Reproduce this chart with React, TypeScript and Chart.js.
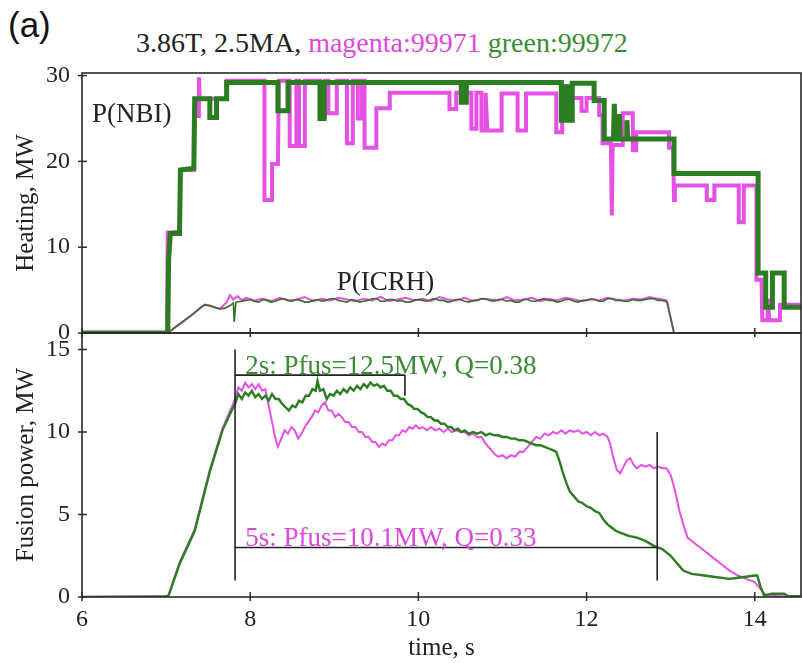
import React, { useEffect, useRef } from 'react';
import { Chart, registerables } from 'chart.js';

Chart.register(...registerables);

// ---------- axis ticks ----------
const xTickValues = [6, 8, 10, 12, 14];
const heatingTickValues = [0, 10, 20, 30];
const fusionTickValues = [0, 5, 10, 15];

// ---------- heating: P(NBI), shot 99972 (green) ----------
const nbiGreenTime = [6.0, 7.02, 7.03, 7.05, 7.16, 7.17, 7.33, 7.34, 7.52, 7.52, 7.6, 7.6, 7.72, 7.72, 8.33, 8.33, 8.45, 8.45, 8.83, 8.83, 8.88, 8.88, 10.51, 10.51, 10.57, 10.57, 11.7, 11.7, 11.74, 11.74, 11.75, 11.79, 11.79, 11.8, 11.83, 11.83, 12.09, 12.09, 12.21, 12.21, 12.32, 12.33, 12.34, 12.38, 12.39, 12.4, 12.47, 12.48, 12.49, 13.04, 13.04, 14.04, 14.04, 14.13, 14.13, 14.21, 14.21, 14.35, 14.35, 14.55];
const nbiGreenMW = [0, 0, 8.5, 11.6, 11.6, 19.0, 19.2, 27.3, 27.3, 25.1, 25.1, 27.3, 27.3, 29.2, 29.2, 25.9, 25.9, 29.2, 29.2, 25.0, 25.0, 29.2, 29.2, 26.9, 26.9, 29.2, 29.2, 24.8, 24.8, 29.0, 24.8, 24.8, 29.0, 24.8, 24.8, 29.1, 29.1, 27.1, 27.1, 22.6, 22.6, 26.7, 22.6, 22.6, 25.5, 22.6, 22.6, 24.8, 22.6, 22.6, 18.6, 18.6, 7.0, 7.0, 3.0, 3.0, 7.0, 7.0, 3.0, 3.0];

// ---------- heating: P(NBI), shot 99971 (magenta) ----------
const nbiMagentaTime = [6.0, 7.01, 7.02, 7.16, 7.17, 7.33, 7.34, 7.38, 7.39, 7.4, 7.72, 7.72, 8.17, 8.17, 8.26, 8.26, 8.33, 8.34, 8.47, 8.47, 8.55, 8.55, 8.58, 8.58, 8.65, 8.65, 8.83, 8.83, 8.89, 8.89, 8.93, 8.93, 9.03, 9.03, 9.15, 9.15, 9.22, 9.22, 9.28, 9.28, 9.33, 9.33, 9.36, 9.36, 9.5, 9.5, 9.66, 9.66, 10.37, 10.37, 10.45, 10.45, 10.63, 10.63, 10.69, 10.69, 10.75, 10.75, 10.8, 10.8, 10.82, 10.99, 10.99, 11.18, 11.18, 11.28, 11.28, 11.64, 11.64, 11.71, 11.71, 11.94, 11.94, 12.0, 12.0, 12.15, 12.15, 12.19, 12.19, 12.29, 12.3, 12.31, 12.43, 12.43, 12.55, 12.55, 12.59, 12.59, 12.98, 12.98, 13.03, 13.04, 13.05, 13.43, 13.43, 13.52, 13.52, 13.81, 13.81, 13.87, 13.87, 14.02, 14.02, 14.08, 14.09, 14.15, 14.16, 14.17, 14.3, 14.3, 14.55];
const nbiMagentaMW = [0, 0, 11.7, 11.8, 19.0, 19.0, 25.3, 25.3, 29.8, 27.3, 27.3, 29.4, 29.4, 15.5, 15.5, 19.7, 19.7, 29.4, 29.4, 21.8, 21.8, 29.4, 29.4, 21.8, 21.8, 29.4, 29.4, 25.3, 25.3, 29.4, 29.4, 25.6, 25.6, 29.4, 29.4, 22.1, 22.1, 29.4, 29.4, 25.0, 25.0, 29.4, 29.4, 21.6, 21.6, 26.2, 26.2, 28.0, 28.0, 26.1, 26.1, 28.0, 28.0, 23.8, 23.8, 28.0, 28.0, 23.6, 23.6, 28.0, 23.6, 23.6, 27.9, 27.9, 23.6, 23.6, 27.9, 27.9, 23.4, 23.4, 27.4, 27.4, 25.9, 25.9, 27.4, 27.4, 25.4, 25.4, 22.1, 22.1, 13.7, 21.9, 21.9, 25.6, 25.6, 21.3, 21.3, 23.4, 23.4, 21.6, 21.6, 15.5, 17.2, 17.2, 15.5, 15.5, 17.2, 17.2, 12.9, 12.9, 17.2, 17.2, 6.2, 6.2, 1.5, 1.5, 4.0, 1.5, 1.5, 3.3, 3.3];

// ---------- heating: P(ICRH) ----------
const icrhGreenTime = [6.0, 7.02, 7.12, 7.22, 7.32, 7.4, 7.46, 7.52, 7.58, 7.64, 7.7, 7.76, 7.8, 7.81, 7.83, 7.9, 7.95, 8.0, 8.05, 8.1, 8.15, 8.2, 8.25, 8.3, 8.35, 8.4, 8.45, 8.5, 8.55, 8.6, 8.65, 8.7, 8.75, 8.8, 8.85, 8.9, 8.95, 9.0, 9.05, 9.1, 9.15, 9.2, 9.25, 9.3, 9.35, 9.4, 9.45, 9.5, 9.55, 9.6, 9.65, 9.7, 9.75, 9.8, 9.85, 9.9, 9.95, 10.0, 10.05, 10.1, 10.15, 10.2, 10.25, 10.3, 10.35, 10.4, 10.45, 10.5, 10.55, 10.6, 10.65, 10.7, 10.75, 10.8, 10.85, 10.9, 10.95, 11.0, 11.05, 11.1, 11.15, 11.2, 11.25, 11.3, 11.35, 11.4, 11.45, 11.5, 11.55, 11.6, 11.65, 11.7, 11.75, 11.8, 11.85, 11.9, 11.95, 12.0, 12.05, 12.1, 12.15, 12.2, 12.25, 12.3, 12.35, 12.4, 12.45, 12.5, 12.55, 12.6, 12.65, 12.7, 12.75, 12.8, 12.85, 12.9, 12.96, 13.04, 14.55];
const icrhGreenMW = [0, 0, 0.8, 1.5, 2.2, 2.9, 3.3, 3.2, 3.0, 2.8, 2.9, 3.2, 3.5, 1.3, 3.6, 3.7, 3.8, 3.9, 3.7, 3.6, 3.9, 3.8, 3.6, 3.7, 3.9, 4.0, 3.8, 3.7, 3.9, 3.8, 3.6, 3.6, 3.8, 3.9, 3.7, 3.8, 4.0, 4.0, 3.8, 3.7, 3.6, 3.9, 3.8, 3.6, 3.7, 3.8, 4.0, 4.0, 3.7, 3.7, 3.9, 3.9, 3.7, 3.8, 3.6, 3.6, 3.8, 3.9, 3.8, 3.7, 3.9, 4.0, 3.8, 3.8, 3.6, 3.7, 3.9, 3.9, 3.7, 3.6, 3.8, 3.8, 4.0, 4.0, 3.8, 3.7, 3.9, 3.9, 3.7, 3.8, 3.6, 3.6, 3.9, 3.9, 3.7, 3.7, 3.9, 4.0, 3.8, 3.8, 3.6, 3.7, 3.9, 3.9, 3.7, 3.6, 3.8, 3.8, 3.9, 3.9, 3.7, 3.7, 4.0, 4.0, 3.8, 3.8, 3.7, 3.7, 3.9, 3.8, 3.8, 3.9, 4.0, 4.0, 3.8, 3.8, 3.6, 0, 0];
const icrhMagentaTime = [6.0, 7.02, 7.2, 7.46, 7.64, 7.72, 7.76, 7.8, 7.85, 7.9, 7.95, 8.05, 8.15, 8.25, 8.35, 8.45, 8.55, 8.65, 8.75, 8.85, 8.95, 9.05, 9.15, 9.25, 9.35, 9.45, 9.55, 9.65, 9.75, 9.85, 9.95, 10.05, 10.15, 10.25, 10.35, 10.45, 10.55, 10.65, 10.75, 10.85, 10.95, 11.05, 11.15, 11.25, 11.35, 11.45, 11.55, 11.65, 11.75, 11.85, 11.95, 12.05, 12.15, 12.25, 12.35, 12.45, 12.55, 12.65, 12.75, 12.85, 12.95, 13.04, 14.55];
const icrhMagentaMW = [0, 0, 1.3, 3.3, 2.8, 3.6, 4.4, 3.9, 4.3, 3.8, 4.1, 3.8, 4.0, 3.7, 4.1, 3.8, 3.9, 4.2, 3.7, 4.0, 3.8, 4.1, 3.9, 3.7, 4.0, 3.8, 4.2, 3.7, 3.9, 4.1, 3.8, 4.0, 3.7, 4.2, 3.9, 3.8, 4.1, 3.7, 4.0, 3.9, 3.8, 4.2, 3.8, 3.9, 4.1, 3.7, 4.0, 3.8, 4.1, 3.9, 3.7, 4.0, 3.8, 4.1, 3.9, 3.8, 4.0, 3.9, 4.2, 4.0, 3.8, 0, 0];

// ---------- fusion power, shot 99972 (green) ----------
const fusionGreenTime = [6.0, 6.5, 7.0, 7.03, 7.16, 7.34, 7.52, 7.67, 7.78, 7.82, 7.86, 7.9, 7.94, 7.98, 8.02, 8.06, 8.1, 8.14, 8.18, 8.22, 8.26, 8.3, 8.34, 8.38, 8.42, 8.46, 8.5, 8.54, 8.58, 8.62, 8.66, 8.7, 8.74, 8.78, 8.8, 8.83, 8.87, 8.91, 8.95, 8.99, 9.03, 9.07, 9.11, 9.15, 9.19, 9.23, 9.27, 9.31, 9.35, 9.39, 9.43, 9.47, 9.51, 9.55, 9.59, 9.63, 9.67, 9.71, 9.75, 9.79, 9.83, 9.87, 9.91, 9.95, 9.99, 10.03, 10.07, 10.11, 10.15, 10.19, 10.23, 10.27, 10.31, 10.35, 10.39, 10.43, 10.47, 10.51, 10.55, 10.6, 10.65, 10.7, 10.75, 10.8, 10.85, 10.9, 10.95, 11.0, 11.05, 11.1, 11.15, 11.2, 11.25, 11.3, 11.35, 11.4, 11.45, 11.5, 11.55, 11.6, 11.64, 11.68, 11.72, 11.76, 11.8, 11.85, 11.9, 11.95, 12.0, 12.05, 12.1, 12.15, 12.2, 12.25, 12.3, 12.35, 12.4, 12.5, 12.6, 12.7, 12.8, 12.9, 13.0, 13.05, 13.1, 13.15, 13.25, 13.4, 13.55, 13.7, 13.85, 14.0, 14.03, 14.07, 14.11, 14.2, 14.35, 14.4, 14.55];
const fusionGreenMW = [0, 0.02, 0.03, 0.1, 2.0, 4.0, 7.6, 10.1, 11.3, 11.7, 12.3, 12.0, 12.4, 12.2, 12.5, 12.1, 12.3, 12.0, 12.2, 11.9, 12.3, 12.0, 12.0, 11.7, 11.5, 11.3, 11.6, 11.5, 11.9, 11.8, 12.2, 12.2, 12.6, 12.5, 13.1, 12.5, 12.6, 12.0, 12.3, 12.2, 12.5, 12.3, 12.6, 12.4, 12.7, 12.5, 12.8, 12.6, 12.9, 12.7, 13.0, 12.8, 12.9, 12.7, 12.8, 12.5, 12.5, 12.2, 12.2, 12.0, 12.0, 11.7, 11.6, 11.4, 11.4, 11.2, 11.1, 10.9, 10.9, 10.7, 10.7, 10.5, 10.5, 10.3, 10.3, 10.1, 10.2, 10.0, 10.1, 9.9, 10.0, 9.9, 10.0, 9.8, 9.9, 9.8, 9.8, 9.7, 9.7, 9.6, 9.6, 9.5, 9.5, 9.4, 9.3, 9.2, 9.2, 9.1, 9.0, 8.9, 8.8, 8.2, 7.5, 6.9, 6.4, 6.1, 5.8, 5.7, 5.5, 5.4, 5.2, 5.1, 4.7, 4.4, 4.2, 4.0, 3.9, 3.7, 3.6, 3.4, 3.1, 2.9, 2.5, 2.2, 1.9, 1.6, 1.4, 1.3, 1.2, 1.1, 1.2, 1.3, 1.3, 0.6, 0.1, 0.2, 0.2, 0.05, 0.05];

// ---------- fusion power, shot 99971 (magenta) ----------
const fusionMagentaTime = [6.0, 7.0, 7.03, 7.16, 7.34, 7.52, 7.67, 7.78, 7.82, 7.86, 7.9, 7.94, 7.98, 8.02, 8.06, 8.1, 8.14, 8.18, 8.22, 8.26, 8.3, 8.33, 8.37, 8.41, 8.45, 8.49, 8.53, 8.57, 8.61, 8.65, 8.69, 8.73, 8.77, 8.81, 8.85, 8.89, 8.93, 8.97, 9.01, 9.05, 9.09, 9.13, 9.17, 9.21, 9.25, 9.29, 9.33, 9.37, 9.41, 9.45, 9.49, 9.53, 9.57, 9.61, 9.65, 9.69, 9.73, 9.77, 9.81, 9.85, 9.89, 9.93, 9.97, 10.01, 10.05, 10.1, 10.15, 10.2, 10.25, 10.3, 10.35, 10.4, 10.45, 10.5, 10.55, 10.6, 10.65, 10.7, 10.75, 10.8, 10.85, 10.9, 10.95, 11.0, 11.05, 11.1, 11.15, 11.2, 11.25, 11.3, 11.35, 11.4, 11.45, 11.5, 11.55, 11.6, 11.65, 11.7, 11.75, 11.8, 11.85, 11.9, 11.95, 12.0, 12.05, 12.1, 12.15, 12.2, 12.25, 12.28, 12.32, 12.36, 12.4, 12.44, 12.48, 12.52, 12.56, 12.6, 12.65, 12.7, 12.75, 12.8, 12.85, 12.9, 12.95, 13.0, 13.05, 13.1, 13.15, 13.2, 13.3, 13.4, 13.5, 13.6, 13.7, 13.8, 13.9, 14.0, 14.05, 14.1, 14.13, 14.3, 14.55];
const fusionMagentaMW = [0, 0.03, 0.1, 2.1, 4.1, 7.7, 10.2, 11.5, 12.0, 12.7, 12.5, 13.0, 12.7, 12.9, 12.6, 12.9, 12.5, 12.6, 11.6, 10.6, 9.6, 9.1, 9.6, 10.1, 9.9, 10.3, 10.1, 9.6, 9.9, 10.3, 10.6, 10.9, 11.3, 11.2, 11.6, 11.8, 11.3, 11.3, 10.9, 11.1, 10.9, 10.6, 10.6, 10.3, 10.3, 10.0, 10.0, 9.7, 9.7, 9.4, 9.4, 9.1, 9.3, 9.2, 9.5, 9.5, 9.8, 9.8, 10.1, 10.0, 10.3, 10.2, 10.4, 10.2, 10.3, 10.1, 10.3, 10.1, 10.2, 10.0, 10.2, 10.0, 10.1, 10.0, 10.0, 9.8, 9.9, 9.7, 9.7, 9.3, 9.0, 8.7, 8.5, 8.6, 8.4, 8.6, 8.5, 8.8, 8.8, 9.1, 9.4, 9.7, 9.6, 9.9, 9.8, 10.0, 9.9, 10.1, 9.9, 10.1, 10.0, 10.1, 9.9, 10.0, 9.8, 10.0, 9.8, 9.9, 9.7, 9.3, 8.4, 7.7, 7.5, 7.9, 8.3, 8.4, 8.0, 7.8, 8.0, 7.9, 8.0, 7.8, 7.9, 7.8, 7.8, 7.4, 6.5, 5.3, 4.4, 3.6, 3.2, 2.8, 2.4, 2.0, 1.6, 1.3, 1.1, 0.9, 0.6, 0.3, 0.1, 0.05, 0.05];

// ---------- averaging windows (black markers) ----------
const windowStart = 7.82;
const window2sEnd = 9.84;
const window5sEnd = 12.84;
const level2s = 13.45;
const level5s = 3.0;
const markerBottom = 1.0;
const markerTop = 15.0;
const tick2sLow = 12.2;
const marker5sTop = 10.0;

const GREEN = '#2c7d22';
const MAGENTA = '#e550e5';
const GREEN_TEXT = '#3b8b35';
const MAGENTA_TEXT = '#dc48dc';
const INK = '#222222';
const SERIF = "'Liberation Serif', 'Times New Roman', serif";

const pts = (t: number[], v: number[]) => t.map((x, i) => ({ x, y: v[i] }));
const seg = (x0: number, y0: number, x1: number, y1: number) => [{ x: x0, y: y0 }, { x: x1, y: y1 }];

type Label = { text: string; x: number; y: number; color: string };

function framePlugin(yTicks: number[], labels: Label[]) {
  return {
    id: 'frameAndLabels',
    afterDatasetsDraw(chart: any) {
      const { ctx, chartArea: a, scales } = chart;
      ctx.save();
      ctx.strokeStyle = '#2a2a2a';
      ctx.lineWidth = 1.6;
      ctx.strokeRect(a.left, a.top, a.right - a.left, a.bottom - a.top);
      ctx.lineWidth = 1.5;
      for (const v of yTicks) {
        const py = scales.y.getPixelForValue(v);
        ctx.beginPath();
        ctx.moveTo(a.left - 4, py);
        ctx.lineTo(a.left + 5, py);
        ctx.stroke();
      }
      for (const v of xTickValues) {
        const px = scales.x.getPixelForValue(v);
        ctx.beginPath();
        ctx.moveTo(px, a.bottom - 5);
        ctx.lineTo(px, a.bottom + 4);
        ctx.stroke();
      }
      ctx.font = `27px ${SERIF}`;
      ctx.textAlign = 'left';
      ctx.textBaseline = 'middle';
      for (const l of labels) {
        ctx.fillStyle = l.color;
        ctx.fillText(l.text, scales.x.getPixelForValue(l.x), scales.y.getPixelForValue(l.y));
      }
      ctx.restore();
    },
  };
}

const fitY = (s: any) => { s.width = 82; s.paddingTop = 0; s.paddingBottom = 0; };
const fitX = (s: any) => { s.height = 66; s.paddingLeft = 0; s.paddingRight = 0; };

export default function App() {
  const topRef = useRef<HTMLCanvasElement>(null);
  const botRef = useRef<HTMLCanvasElement>(null);

  useEffect(() => {
    const tickFont = { family: SERIF, size: 24 };
    const titleFont = { family: SERIF, size: 25 };

    const top = new Chart(topRef.current as HTMLCanvasElement, {
      type: 'line',
      data: {
        datasets: [
          { data: pts(nbiGreenTime, nbiGreenMW), borderColor: GREEN, borderWidth: 5, order: 1 },
          { data: pts(nbiMagentaTime, nbiMagentaMW), borderColor: MAGENTA, borderWidth: 4, order: 2 },
          { data: pts(icrhGreenTime, icrhGreenMW), borderColor: '#3a6b30', borderWidth: 1.6, order: 1 },
          { data: pts(icrhMagentaTime, icrhMagentaMW), borderColor: MAGENTA, borderWidth: 2, order: 2 },
        ],
      },
      options: {
        animation: false,
        responsive: false,
        devicePixelRatio: 1,
        layout: { padding: { top: 73, bottom: 17, left: 0, right: 1 } },
        elements: { point: { radius: 0 }, line: { tension: 0 } },
        plugins: { legend: { display: false }, tooltip: { enabled: false } },
        scales: {
          x: { type: 'linear', min: 6, max: 14.55, display: false },
          y: {
            type: 'linear', min: 0, max: 30.3,
            afterFit: fitY,
            grid: { display: false, drawTicks: false },
            border: { display: false },
            ticks: { stepSize: 10, includeBounds: false, font: tickFont, color: INK, padding: 12 },
            title: { display: true, text: 'Heating, MW', font: titleFont, color: INK, padding: { top: 11, bottom: 0 } },
          },
        },
      },
      plugins: [framePlugin(heatingTickValues, [
        { text: 'P(NBI)', x: 6.12, y: 25.4, color: INK },
        { text: 'P(ICRH)', x: 9.03, y: 5.8, color: INK },
      ])],
    } as any);

    const bot = new Chart(botRef.current as HTMLCanvasElement, {
      type: 'line',
      data: {
        datasets: [
          { data: pts(fusionGreenTime, fusionGreenMW), borderColor: GREEN, borderWidth: 2.4, order: 1 },
          { data: pts(fusionMagentaTime, fusionMagentaMW), borderColor: MAGENTA, borderWidth: 2, order: 2 },
          { data: seg(windowStart, markerBottom, windowStart, markerTop), borderColor: INK, borderWidth: 1.6, order: 0 },
          { data: seg(windowStart, level2s, window2sEnd, level2s), borderColor: INK, borderWidth: 1.6, order: 0 },
          { data: seg(window2sEnd, level2s, window2sEnd, tick2sLow), borderColor: INK, borderWidth: 1.6, order: 0 },
          { data: seg(windowStart, level5s, window5sEnd, level5s), borderColor: INK, borderWidth: 1.6, order: 0 },
          { data: seg(window5sEnd, markerBottom, window5sEnd, marker5sTop), borderColor: INK, borderWidth: 1.6, order: 0 },
        ],
      },
      options: {
        animation: false,
        responsive: false,
        devicePixelRatio: 1,
        layout: { padding: { top: 2, bottom: 0, left: 0, right: 1 } },
        elements: { point: { radius: 0 }, line: { tension: 0 } },
        plugins: { legend: { display: false }, tooltip: { enabled: false } },
        scales: {
          x: {
            type: 'linear', min: 6, max: 14.55,
            afterFit: fitX,
            grid: { display: false, drawTicks: false },
            border: { display: false },
            ticks: { stepSize: 2, includeBounds: false, autoSkip: false, maxRotation: 0, font: tickFont, color: INK, padding: 8 },
            title: { display: true, text: 'time, s', font: titleFont, color: INK, padding: { top: 2, bottom: 0 } },
          },
          y: {
            type: 'linear', min: 0, max: 16,
            afterFit: fitY,
            grid: { display: false, drawTicks: false },
            border: { display: false },
            ticks: { stepSize: 5, includeBounds: false, font: tickFont, color: INK, padding: 12 },
            title: { display: true, text: 'Fusion power, MW', font: titleFont, color: INK, padding: { top: 11, bottom: 0 } },
          },
        },
      },
      plugins: [framePlugin(fusionTickValues, [
        { text: '2s: Pfus=12.5MW, Q=0.38', x: 7.94, y: 13.95, color: GREEN_TEXT },
        { text: '5s: Pfus=10.1MW, Q=0.33', x: 7.94, y: 3.5, color: MAGENTA_TEXT },
      ])],
    } as any);

    return () => {
      top.destroy();
      bot.destroy();
    };
  }, []);

  return (
    <div style={{ position: 'absolute', left: 0, top: 0, width: 802, height: 663, background: '#ffffff', overflow: 'hidden' }}>
      <div style={{ position: 'absolute', left: 8, top: 5, font: "35px 'Liberation Sans', Arial, sans-serif", color: '#111' }}>(a)</div>
      <div style={{ position: 'absolute', left: 136, top: 27, font: `28px ${SERIF}`, whiteSpace: 'nowrap', lineHeight: '32px' }}>
        <span style={{ color: INK }}>3.86T, 2.5MA, </span>
        <span style={{ color: MAGENTA_TEXT }}>magenta:99971</span>
        <span style={{ color: GREEN_TEXT }}> green:99972</span>
      </div>
      <canvas ref={topRef} width={802} height={350} style={{ position: 'absolute', left: 0, top: 0, width: 802, height: 350 }} />
      <canvas ref={botRef} width={802} height={332} style={{ position: 'absolute', left: 0, top: 331, width: 802, height: 332 }} />
    </div>
  );
}
